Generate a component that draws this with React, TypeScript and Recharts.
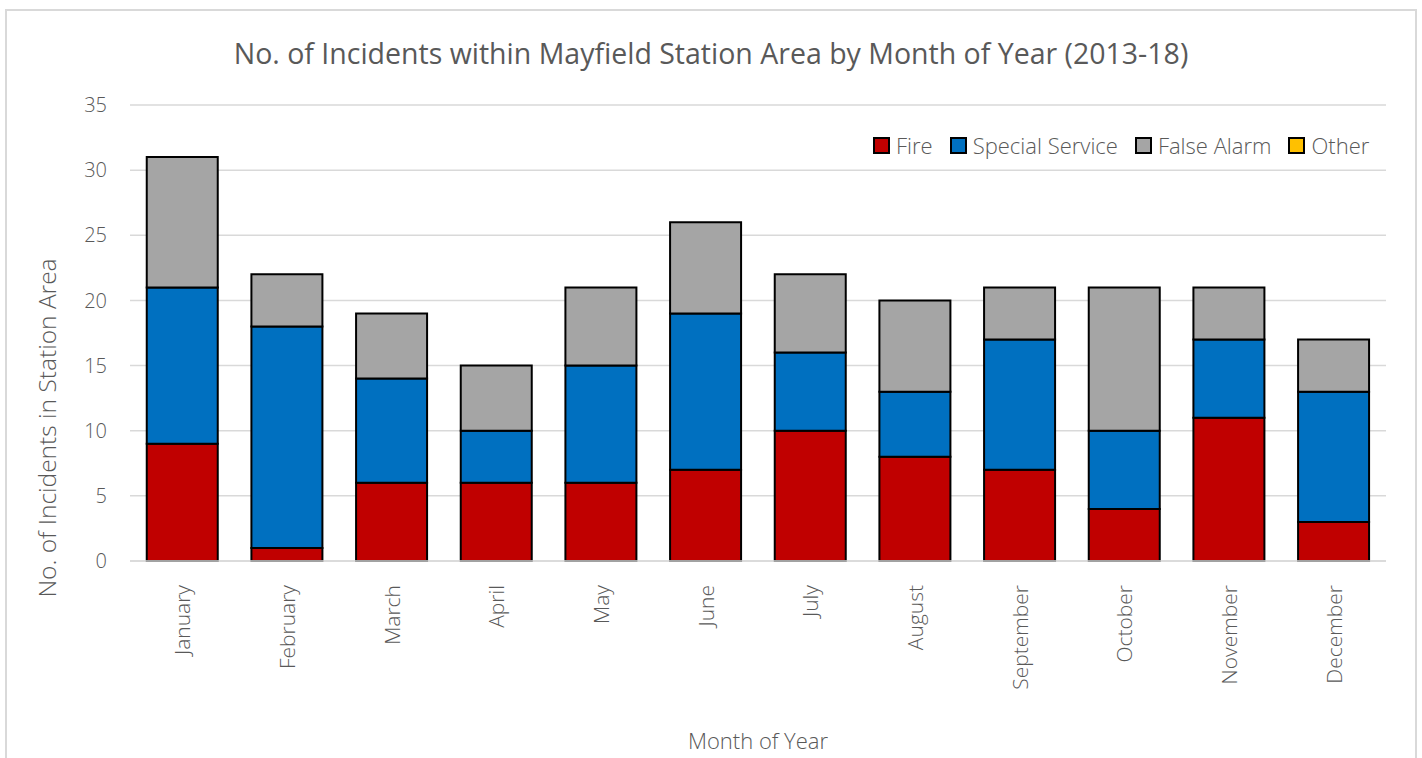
import React from "react";
import { BarChart, Bar, XAxis, YAxis, CartesianGrid } from "recharts";

const months = [
  "January", "February", "March", "April", "May", "June",
  "July", "August", "September", "October", "November", "December",
];
const fire = [9, 1, 6, 6, 6, 7, 10, 8, 7, 4, 11, 3];
const specialService = [12, 17, 8, 4, 9, 12, 6, 5, 10, 6, 6, 10];
const falseAlarm = [10, 4, 5, 5, 6, 7, 6, 7, 4, 11, 4, 4];
const other = [0, 0, 0, 0, 0, 0, 0, 0, 0, 0, 0, 0];
const yTicks = [0, 5, 10, 15, 20, 25, 30, 35];

const series = [
  { key: "fire", name: "Fire", color: "#c00000" },
  { key: "special", name: "Special Service", color: "#0070c0" },
  { key: "falseAlarm", name: "False Alarm", color: "#a5a5a5" },
  { key: "other", name: "Other", color: "#ffc000" },
];

const data = months.map((m, i) => ({
  month: m,
  fire: fire[i],
  special: specialService[i],
  falseAlarm: falseAlarm[i],
  other: other[i],
}));

const FONT = "'Open Sans', 'Noto Sans', sans-serif";
const GREY = "#595959";

const MonthTick = (props: any) => {
  const { x, y, payload } = props;
  return (
    <text
      x={x}
      y={y + 16}
      transform={`rotate(-90, ${x}, ${y + 16})`}
      textAnchor="end"
      dominantBaseline="central"
      fill={GREY}
      fontSize={21}
      fontFamily={FONT}
      fontWeight={300}
    >
      {payload.value}
    </text>
  );
};

const App = () => {
  return (
    <div
      style={{
        position: "absolute",
        left: 0,
        top: 0,
        width: 1422,
        height: 758,
        overflow: "hidden",
        background: "#fff",
        fontFamily: FONT,
      }}
    >
      <div
        style={{
          position: "absolute",
          left: 5,
          top: 9,
          width: 1408,
          height: 800,
          border: "2px solid #d9d9d9",
        }}
      />
      <div
        style={{
          position: "absolute",
          left: 0,
          top: 33,
          width: 1422,
          textAlign: "center",
          fontSize: 28.5,
          lineHeight: "40px",
          color: GREY,
          fontWeight: 400,
        }}
      >
        No. of Incidents within Mayfield Station Area by Month of Year (2013-18)
      </div>
      <div
        style={{
          position: "absolute",
          left: 46,
          top: 428,
          transform: "translate(-50%, -50%) rotate(-90deg)",
          whiteSpace: "nowrap",
          fontSize: 24.5,
          color: GREY,
          fontWeight: 300,
        }}
      >
        No. of Incidents in Station Area
      </div>
      <div
        style={{
          position: "absolute",
          left: 0,
          top: 726,
          width: 1516,
          textAlign: "center",
          fontSize: 22,
          lineHeight: "28px",
          color: GREY,
          fontWeight: 300,
        }}
      >
        Month of Year
      </div>
      <div
        style={{
          position: "absolute",
          left: 873,
          top: 130,
          display: "flex",
          alignItems: "center",
          fontSize: 22,
          lineHeight: "30px",
          color: GREY,
          fontWeight: 300,
        }}
      >
        {series.map((s) => (
          <div key={s.key} style={{ display: "flex", alignItems: "center", marginRight: 17 }}>
            <span
              style={{
                display: "inline-block",
                width: 13,
                height: 13,
                background: s.color,
                border: "2px solid #000",
                marginRight: 6,
              }}
            />
            {s.name}
          </div>
        ))}
      </div>
      <div style={{ position: "absolute", left: 0, top: 0 }}>
        <BarChart
          width={1422}
          height={758}
          data={data}
          margin={{ top: 105, right: 36, bottom: 0, left: 0 }}
          barCategoryGap="16%"
        >
          <CartesianGrid vertical={false} stroke="#d9d9d9" strokeWidth={1.5} />
          <XAxis
            dataKey="month"
            interval={0}
            tickLine={false}
            axisLine={{ stroke: "#d9d9d9", strokeWidth: 1.5 }}
            tick={<MonthTick />}
            height={197}
          />
          <YAxis
            width={130}
            domain={[0, 35]}
            ticks={yTicks}
            tickLine={false}
            axisLine={false}
            tickMargin={17}
            tick={{ fill: GREY, fontSize: 20, fontFamily: FONT, fontWeight: 300 }}
          />
          {series.map((s) => (
            <Bar
              key={s.key}
              dataKey={s.key}
              name={s.name}
              stackId="a"
              fill={s.color}
              stroke="#000"
              strokeWidth={2}
              isAnimationActive={false}
            />
          ))}
        </BarChart>
      </div>
    </div>
  );
};

export default App;
